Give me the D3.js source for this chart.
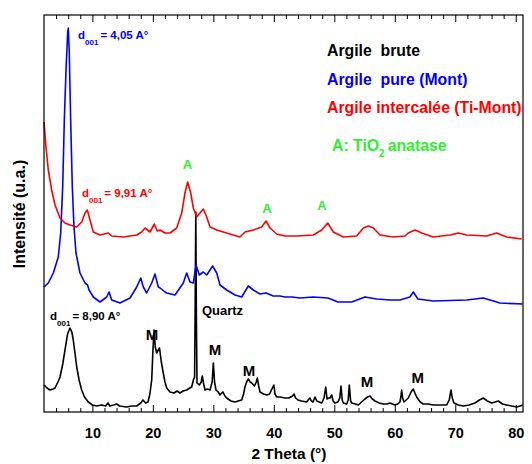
<!DOCTYPE html>
<html>
<head>
<meta charset="utf-8">
<script src="https://cdn.jsdelivr.net/npm/d3@7"></script>
<style>
  body { margin: 0; background: #fff; }
  text { font-family: "Liberation Sans", Arial, sans-serif; font-weight: bold; }
</style>
</head>
<body>
<div id="chart"></div>
<script>
// Argile brute (black)
var bruteTheta = [2.0, 2.5, 3.0, 3.5, 3.82, 4.3, 4.65, 5.1, 5.47, 5.9, 6.3, 6.6, 6.84, 7.1, 7.41, 7.8, 8.23, 8.7, 9.32, 10.0,
  10.71, 11.5, 12.2, 12.58, 12.9, 13.5, 14.02, 14.5, 15.67, 16.5, 17.33, 18.0, 18.37, 18.8, 19.2, 19.5, 19.81, 20.0, 20.19, 20.4,
  20.63, 20.9, 21.1, 21.4, 21.63, 22.0, 22.29, 22.83, 23.5, 24.0, 24.49, 25.0, 25.59, 26.1, 26.42, 26.7, 26.9, 27.0, 27.1, 27.2,
  27.3, 27.68, 28.0, 28.17, 28.4, 28.62, 29.0, 29.45, 29.8, 30.0, 30.2, 30.44, 30.8, 31.1, 31.38, 31.6, 31.9, 32.21, 32.9, 33.58,
  34.1, 34.69, 35.0, 35.23, 35.5, 35.78, 36.1, 36.34, 36.8, 37.1, 37.27, 37.5, 37.71, 38.3, 38.82, 39.3, 39.6, 40.0, 40.2, 40.47,
  41.0, 41.85, 42.5, 43.1, 43.34, 43.6, 44.0, 44.6, 45.44, 45.8, 45.98, 46.2, 46.48, 46.81, 47.1, 47.5, 47.92, 48.3, 48.58, 48.8,
  49.01, 49.3, 49.57, 49.8, 50.11, 50.6, 50.9, 51.11, 51.3, 51.49, 52.05, 52.3, 52.48, 52.7, 52.88, 53.5, 53.97, 54.5, 55.07, 55.5,
  55.9, 56.3, 56.73, 57.4, 58.1, 58.7, 59.21, 60.03, 60.5, 60.86, 61.0, 61.14, 61.3, 61.52, 62.23, 62.7, 63.06, 63.4, 63.62, 64.2,
  64.71, 65.5, 66.37, 67.5, 68.58, 69.0, 69.3, 69.5, 69.79, 70.5, 71.33, 72.3, 73.26, 74.0, 74.63, 75.3, 76.02, 76.6, 77.12, 77.8,
  78.51, 79.3, 80.16, 80.7, 81.2];
var bruteInt = [27, 24, 22, 23, 24, 30, 35, 48, 62, 78, 84, 80, 72, 60, 45, 32, 22, 15, 10, 7,
  6, 7, 6, 9, 6, 7, 8, 6, 5, 6, 6, 9, 12, 9, 10, 18, 32, 60, 82, 65,
  59, 62, 64, 50, 42, 30, 24, 20, 19, 21, 19, 21, 22, 24, 25, 32, 35, 110, 200, 90,
  29, 27, 30, 36, 28, 22, 23, 22, 30, 49, 30, 22, 20, 17, 19, 20, 16, 14, 11, 10,
  11, 12, 18, 25, 30, 33, 30, 29, 26, 30, 34, 26, 20, 18, 17, 18, 22, 27, 18, 15,
  15, 14, 14, 16, 18, 14, 12, 11, 10, 13, 14, 11, 10, 15, 11, 10, 9, 14, 25, 13,
  14, 14, 17, 11, 9, 10, 14, 26, 12, 9, 8, 12, 27, 11, 9, 8, 7, 10, 13, 15,
  16, 13, 11, 9, 8, 8, 9, 7, 8, 10, 15, 22, 14, 10, 14, 20, 23, 18, 15, 10,
  8, 8, 7, 7, 7, 12, 22, 14, 9, 7, 6, 7, 9, 12, 14, 11, 9, 10, 11, 8,
  7, 6, 5, 6, 7];

// Argile pure (Mont) (blue)
var pureTheta = [2.0, 2.71, 3.54, 4.36, 4.76, 5.09, 5.36, 5.64, 5.92, 6.02, 6.18, 6.41, 6.68, 6.96, 7.29, 7.95, 8.78, 9.2, 9.45, 10.15,
  11.26, 12.37, 12.75, 13.19, 14.57, 16.22, 17.33, 17.99, 18.42, 18.98, 19.81, 20.35, 20.9, 21.2, 22.01, 22.29, 23.66, 25.03, 25.59, 26.14,
  26.69, 27.13, 27.68, 28.34, 28.9, 29.89, 30.56, 31.1, 32.21, 33.58, 34.69, 35.78, 36.61, 37.71, 38.71, 39.91, 41.02, 41.85, 42.96, 44.33,
  46.48, 48.96, 50.61, 52.88, 55.07, 57.01, 59.21, 60.86, 62.5, 63.06, 63.83, 66.37, 71.89, 74.63, 77.4, 81.15];
var pureInt = [125, 129, 139, 155, 179, 225, 292, 342, 380, 384, 359, 292, 225, 185, 159, 139, 129, 127, 122, 115,
  110, 115, 120, 112, 109, 114, 125, 134, 125, 119, 129, 138, 125, 124, 120, 119, 117, 129, 139, 130,
  129, 147, 137, 140, 137, 146, 139, 127, 122, 117, 115, 126, 122, 118, 119, 116, 116, 115, 115, 114,
  115, 114, 110, 110, 115, 113, 112, 112, 115, 120, 113, 111, 112, 114, 109, 108];

// Argile intercalée (Ti-Mont) (red)
var interTheta = [2.0, 2.33, 2.71, 3.27, 3.82, 4.65, 5.47, 6.3, 7.41, 8.23, 8.78, 9.16, 9.61, 10.15, 11.26, 12.63, 13.19, 15.11, 17.33, 18.15,
  18.7, 19.53, 20.24, 20.73, 21.18, 22.01, 22.83, 23.94, 24.77, 25.31, 25.76, 26.26, 26.69, 27.25, 27.79, 28.34, 28.9, 29.45, 30.56, 32.21,
  34.41, 35.23, 36.61, 37.99, 38.71, 39.37, 40.47, 41.85, 43.78, 46.53, 47.92, 48.91, 49.83, 51.49, 53.7, 54.8, 55.62, 56.45, 57.56, 59.75,
  61.69, 62.23, 63.34, 64.45, 66.37, 69.13, 70.5, 71.89, 75.2, 76.85, 78.51, 80.98];
var interInt = [290, 265, 242, 222, 207, 194, 189, 187, 185, 190, 199, 202, 192, 180, 177, 179, 176, 175, 177, 180,
  184, 180, 188, 181, 182, 179, 179, 184, 199, 219, 230, 219, 204, 195, 199, 203, 195, 185, 182, 179,
  175, 180, 182, 185, 191, 184, 178, 176, 176, 177, 182, 189, 180, 175, 176, 184, 186, 184, 177, 175,
  176, 179, 182, 179, 175, 177, 179, 177, 176, 179, 175, 173];

var xTicks = [10, 20, 30, 40, 50, 60, 70, 80];

var legendLabels = ["Argile  brute", "Argile  pure (Mont)", "Argile intercalée (Ti-Mont)"];
var legendColors = ["#000000", "#0000ff", "#ff0000"];

// peak annotations: [2theta, intensity, text]
var mLabels = [[19.85, 72, "M"], [30.28, 57, "M"], [35.9, 36, "M"], [55.4, 25, "M"], [63.8, 29, "M"]];
var aLabels = [[25.73, 243, "A"], [38.87, 199, "A"], [47.96, 202, "A"]];
var dLabels = [[7.62, 373, "4,05 A°", "#0000ff"], [8.28, 215, "9,91 A°", "#ff0000"], [2.99, 92, "8,90 A°", "#000000"]];

var width = 532, height = 464;
var margin = {top: 15, right: 9, bottom: 52, left: 44};
var w = width - margin.left - margin.right,
    h = height - margin.top - margin.bottom;

var x = d3.scaleLinear().domain([2, 81.2]).range([0, w]);
var y = d3.scaleLinear().domain([0, 397]).range([h, 0]);

var svg = d3.select("#chart").append("svg")
    .attr("width", width)
    .attr("height", height);

var g = svg.append("g")
    .attr("transform", "translate(" + margin.left + "," + margin.top + ")");

var line = d3.line()
    .x(function (d) { return x(d[0]); })
    .y(function (d) { return y(d[1]); });

function pairs(t, v) {
    return t.map(function (d, i) { return [d, v[i]]; });
}

var series = [
    {data: pairs(bruteTheta, bruteInt), color: "#000000"},
    {data: pairs(pureTheta, pureInt), color: "#0000ff"},
    {data: pairs(interTheta, interInt), color: "#ff0000"}
];

g.selectAll(".curve")
    .data(series)
    .enter().append("path")
    .attr("class", "curve")
    .attr("fill", "none")
    .attr("stroke", function (d) { return d.color; })
    .attr("stroke-width", 1.6)
    .attr("stroke-linejoin", "round")
    .attr("d", function (d) { return line(d.data); });

// axes: minor every 2 deg, major every 10
var minorTicks = d3.range(4, 81, 2).filter(function (d) { return d % 10 !== 0; });

g.append("g")
    .attr("transform", "translate(0," + h + ")")
    .call(d3.axisBottom(x).tickValues(xTicks).tickSize(-7).tickPadding(16).tickFormat(d3.format("d")))
    .call(function (a) {
        a.select(".domain").remove();
        a.selectAll("text").style("font-size", "14.5px").attr("fill", "#000");
    });

g.append("g")
    .attr("transform", "translate(0," + h + ")")
    .call(d3.axisBottom(x).tickValues(minorTicks).tickSize(-4).tickFormat(""))
    .call(function (a) { a.select(".domain").remove(); });

g.append("g")
    .call(d3.axisTop(x).tickValues(xTicks).tickSize(-7).tickFormat(""))
    .call(function (a) { a.select(".domain").remove(); });

g.append("g")
    .call(d3.axisTop(x).tickValues(minorTicks).tickSize(-4).tickFormat(""))
    .call(function (a) { a.select(".domain").remove(); });

g.append("rect")
    .attr("x", 0).attr("y", 0)
    .attr("width", w).attr("height", h)
    .attr("fill", "none")
    .attr("stroke", "#000")
    .attr("stroke-width", 1.2);

// axis titles
svg.append("text")
    .attr("x", margin.left + x(42.5))
    .attr("y", 459)
    .attr("text-anchor", "middle")
    .style("font-size", "15.5px")
    .text("2 Theta (°)");

svg.append("text")
    .attr("transform", "translate(25,214) rotate(-90)")
    .attr("text-anchor", "middle")
    .style("font-size", "16px")
    .text("Intensité (u.a.)");

// peak labels
g.selectAll(".mlab")
    .data(mLabels)
    .enter().append("text")
    .attr("class", "mlab")
    .attr("x", function (d) { return x(d[0]); })
    .attr("y", function (d) { return y(d[1]); })
    .attr("text-anchor", "middle")
    .style("font-size", "15px")
    .text(function (d) { return d[2]; });

g.selectAll(".alab")
    .data(aLabels)
    .enter().append("text")
    .attr("class", "alab")
    .attr("x", function (d) { return x(d[0]); })
    .attr("y", function (d) { return y(d[1]); })
    .attr("text-anchor", "middle")
    .attr("fill", "#2ef02e")
    .style("font-size", "13px")
    .text(function (d) { return d[2]; });

g.append("text")
    .attr("x", x(26.95) + 7)
    .attr("y", y(97))
    .style("font-size", "13px")
    .text("Quartz");

var dl = g.selectAll(".dlab")
    .data(dLabels)
    .enter().append("text")
    .attr("class", "dlab")
    .attr("x", function (d) { return x(d[0]); })
    .attr("y", function (d) { return y(d[1]); })
    .attr("fill", function (d) { return d[3]; })
    .style("font-size", "11.5px");
dl.append("tspan").text("d");
dl.append("tspan").attr("dy", 6).style("font-size", "8px").text("001");
dl.append("tspan").attr("dy", -6).attr("dx", 2).text(function (d) { return "= " + d[2]; });

// legend
var leg = svg.append("g").attr("transform", "translate(327,0)");
leg.selectAll("text.leg")
    .data(legendLabels)
    .enter().append("text")
    .attr("class", "leg")
    .attr("x", 0)
    .attr("y", function (d, i) { return 56 + i * 28.5; })
    .attr("fill", function (d, i) { return legendColors[i]; })
    .style("font-size", "15.8px")
    .style("white-space", "pre")
    .text(function (d) { return d; });

var ti = leg.append("text")
    .attr("x", 5)
    .attr("y", 151)
    .attr("fill", "#2ef02e")
    .style("font-size", "15.8px");
ti.append("tspan").text("A: TiO");
ti.append("tspan").attr("dy", 6).style("font-size", "10px").text("2");
ti.append("tspan").attr("dy", -6).attr("dx", 3).text("anatase");
</script>
</body>
</html>
